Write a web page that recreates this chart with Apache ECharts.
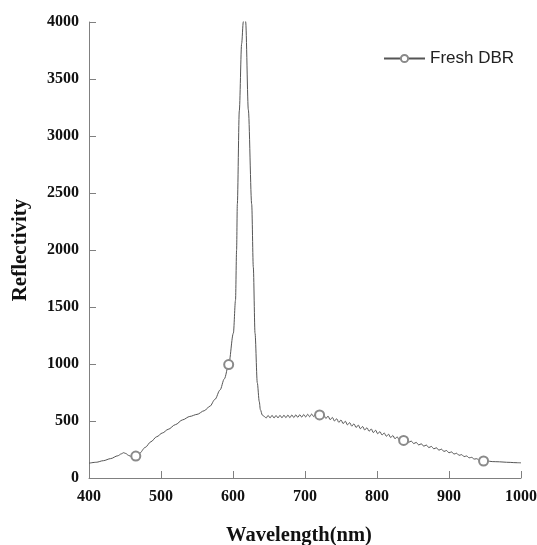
<!DOCTYPE html>
<html>
<head>
<meta charset="utf-8">
<script src="https://cdn.jsdelivr.net/npm/echarts@6/dist/echarts.min.js"></script>
<style>html,body{margin:0;padding:0;background:#fff;}#chart{width:537px;height:545px;}</style>
</head>
<body>
<div id="chart"></div>
<script>
// Wavelength (nm) sample positions
const wavelength = [
  400,410,420,430,440,445,448,451,455,460,465,470,478,486,494,502,510,520,530,540,550,560,568,575,582,588,594,
  600.5,603.5,605,606,608.75,612,614.3,616,617.6,621.3,626,628.2,630.6,633.75,636.5,638,640.7,643.5,
  646,648.75,651.5,654.25,657,659.75,662.5,665.25,668,670.75,673.5,676.25,679,681.75,684.5,687.25,690,692.75,
  695.5,698.25,701,703.75,706.5,709.25,712,714.75,717.5,720.25,
  723,726,729,732,735,738,741,744,747,750,753,756,759,762,765,768,771,774,777,780,783,786,789,792,795,798,
  801,804,807,810,813,816,819,822,825,828,831,834,837,
  840.5,844,847.5,851,854.5,858,861.5,865,868.5,872,875.5,879,882.5,886,889.5,893,896.5,900,903.5,907,910.5,
  914,917.5,921,924.5,928,931.5,935,938.5,942,945,948,
  952,956,960,965,970,975,980,985,990,995,1000
];
// Reflectivity values
const reflectivity = [
  130,138,152,170,195,212,222,215,198,185,192,215,268,318,362,395,427,468,510,540,558,590,630,690,772,870,995,
  1270,1560,2000,2400,3220,3810,4000,4150,4000,3230,2400,1850,1270,835,670,600,552,540,
  526,549,527,550,526,549,527,550,528,551,529,552,529,553,530,554,532,555,
  534,557,535,559,537,561,539,563,541,553,
  534,554,522,543,511,531,500,520,488,509,477,498,466,486,455,475,443,464,432,452,421,441,410,430,398,419,
  388,407,377,395,366,384,355,373,344,361,333,349,330,
  335,313,324,302,312,290,300,279,289,267,277,256,265,244,253,233,241,221,229,210,217,
  199,205,188,193,177,181,166,169,155,157,149,
  146,147,144,143,142,140,138,137,135,134,133
];
// Wavelengths where open-circle markers are drawn
const markerWavelengths = [465, 594, 720.25, 837, 948];

const xTicks = [400,500,600,700,800,900,1000];
const yTicks = [0,500,1000,1500,2000,2500,3000,3500,4000];

const seriesData = wavelength.map((w, i) => {
  const isMarker = markerWavelengths.indexOf(w) >= 0;
  return { value: [w, reflectivity[i]], symbol: isMarker ? 'emptyCircle' : 'none' };
});

const chart = echarts.init(document.getElementById('chart'), null, {renderer: 'canvas'});
const labelFont = {fontFamily: '"Liberation Serif","Times New Roman",serif', fontWeight: 'bold', fontSize: 16, color: '#111'};
const axisLineStyle = {color: '#808080', width: 1};
const lineColor = '#555555';
const markerColor = '#8a8a8a';

chart.setOption({
  animation: false,
  backgroundColor: '#ffffff',
  grid: {left: 89, right: 16, top: 22, bottom: 67, containLabel: false, outerBoundsMode: 'none'},
  legend: {
    left: 383, top: 50, padding: 0,
    itemWidth: 41, itemHeight: 9, itemGap: 5,
    textStyle: {fontFamily: '"Liberation Sans",Arial,sans-serif', fontSize: 17, color: '#222'},
    data: ['Fresh DBR']
  },
  xAxis: {
    type: 'value', min: 400, max: 1000, interval: 100,
    name: 'Wavelength(nm)', nameLocation: 'middle', nameGap: 47,
    nameTextStyle: {fontFamily: '"Liberation Serif","Times New Roman",serif', fontWeight: 'bold', fontSize: 20.5, color: '#111', padding: [0, 12, 0, 0]},
    axisLine: {show: true, lineStyle: axisLineStyle},
    axisTick: {show: true, inside: true, length: 7, lineStyle: axisLineStyle},
    axisLabel: Object.assign({margin: 11, formatter: v => xTicks.indexOf(v) >= 0 ? String(v) : ''}, labelFont),
    splitLine: {show: false}
  },
  yAxis: {
    type: 'value', min: 0, max: 4000, interval: 500,
    name: 'Reflectivity', nameLocation: 'middle', nameGap: 58,
    nameTextStyle: {fontFamily: '"Liberation Serif","Times New Roman",serif', fontWeight: 'bold', fontSize: 21, color: '#111'},
    axisLine: {show: true, lineStyle: axisLineStyle},
    axisTick: {show: true, inside: true, length: 7, lineStyle: axisLineStyle},
    axisLabel: Object.assign({margin: 10, formatter: v => yTicks.indexOf(v) >= 0 ? String(v) : ''}, labelFont),
    splitLine: {show: false}
  },
  series: [{
    name: 'Fresh DBR',
    type: 'line',
    data: seriesData,
    symbol: 'emptyCircle',
    symbolSize: 9,
    showAllSymbol: true,
    smooth: 0.3,
    smoothMonotone: 'x',
    clip: true,
    color: markerColor,
    lineStyle: {color: lineColor, width: 1},
    itemStyle: {color: markerColor, borderColor: markerColor, borderWidth: 0.8},
    emphasis: {disabled: true}
  }]
});
</script>
</body>
</html>
